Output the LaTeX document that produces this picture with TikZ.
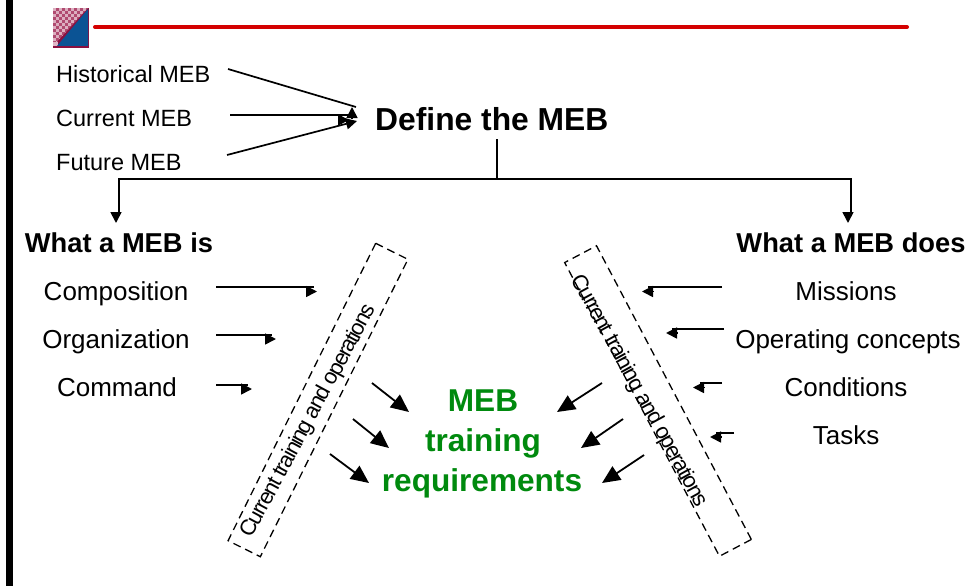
\documentclass[tikz,border=0pt]{standalone}
\usepackage{fontspec}
\setmainfont{Liberation Sans}
\usetikzlibrary{arrows.meta}
\definecolor{megreen}{HTML}{008A0E}
\definecolor{mered}{HTML}{D40000}
\definecolor{meblue}{HTML}{0B5394}
\definecolor{memaroon}{HTML}{8A1040}
\definecolor{mepink}{HTML}{B04A70}
\newcommand{\fsz}[1]{\fontsize{#1}{#1}\selectfont}
\tikzset{
  x=1pt,y=-1pt,
  lab/.style={inner sep=0pt,anchor=base west,text=black,font=\fsz{23.5}},
  labm/.style={inner sep=0pt,anchor=base,text=black,font=\fsz{26}},
  head/.style={inner sep=0pt,anchor=base,text=black,font=\fsz{27.3}\bfseries},
  goal/.style={inner sep=0pt,anchor=base,text=megreen,font=\fsz{31.6}\bfseries},
  plainline/.style={draw=black,line width=1.7pt},
  arrowline/.style={draw=black,line width=1.7pt,-{Triangle[length=11pt,width=11pt]}},
  bigarrow/.style={draw=black,line width=1.8pt,-{Triangle[length=18pt,width=16pt]}},
  dashbox/.style={draw=black,line width=1.3pt,dash pattern=on 8pt off 5pt,inner sep=0pt,minimum width=332pt,minimum height=36pt},
  sidetext/.style={inner sep=0pt,text=black},
}
\newfontfamily\sidefont[LetterSpace=-7]{Liberation Sans}
\begin{document}
\begin{tikzpicture}
\useasboundingbox (0,0) rectangle (969,586);
\fill[white] (0,0) rectangle (969,586);
% left bar
\fill[black] (6,0) rectangle (13,586);
% logo
\fill[memaroon] (53,8) rectangle (89,48);
\begin{scope}
\clip (53,8) -- (88,8) -- (53,46) -- cycle;
\fill[mepink] (53,8) rectangle (88,46);
\foreach \i in {0,...,11}{\foreach \j in {0,...,12}{
  \pgfmathparse{int(mod(\i+\j,2))}
  \ifnum\pgfmathresult=0 \fill[white!55!mepink] (53+3*\i,8+3*\j) rectangle ++(3,3);\fi
}}
\end{scope}
\fill[white!60!mepink] (53,42) rectangle (58,46);
\fill[meblue] (88,9) -- (88,46) -- (57,46) -- cycle;
% red rule
\coordinate (ruleA) at (95,27);
\coordinate (ruleB) at (907,27);
\draw[mered,line width=4pt,line cap=round] (ruleA) -- (ruleB);
% top inputs
\node[lab] (hist) at (56,82) {Historical MEB};
\node[lab] (curr) at (56,126) {Current MEB};
\node[lab] (fut) at (56,170) {Future MEB};
\node[inner sep=0pt,anchor=base west,text=black,font=\fsz{31.8}\bfseries] (define) at (375,130) {Define the MEB};
\coordinate (a1s) at (228,69); \coordinate (a1e) at (356,107);
\coordinate (a1h) at (352,118); \coordinate (a1t) at (352,107);
\coordinate (a2s) at (230,115); \coordinate (a2e) at (348,115);
\coordinate (a2h) at (338,120); \coordinate (a2t) at (349,120);
\coordinate (a3s) at (227,155); \coordinate (a3e) at (357,121);
\draw[plainline] (a1s) -- (a1e);
\draw[arrowline] (a1h) -- (a1t);
\draw[plainline] (a2s) -- (a2e);
\draw[arrowline] (a2h) -- (a2t);
\draw[arrowline] (a3s) -- (a3e);
% tree
\coordinate (t0) at (497,139); \coordinate (t1) at (497,179);
\coordinate (tlc) at (119,179); \coordinate (tld) at (119,213);
\coordinate (trc) at (851,179); \coordinate (trd) at (851,213);
\coordinate (tlh) at (116,212); \coordinate (tlt) at (116,223);
\coordinate (trh) at (848,212); \coordinate (trt) at (848,223);
\draw[plainline] (t0) -- (t1);
\draw[plainline] (tld) -- (tlc) -- (trc) -- (trd);
\draw[arrowline] (tlh) -- (tlt);
\draw[arrowline] (trh) -- (trt);
% headings
\node[head] (isH) at (119,252.5) {What a MEB is};
\node[head] (doesH) at (851,252.5) {What a MEB does};
% left items
\node[labm] (comp) at (116,300) {Composition};
\node[labm] (org) at (116,348) {Organization};
\node[labm] (cmd) at (117,396) {Command};
\coordinate (b1s) at (216,287); \coordinate (b1e) at (314,287);
\coordinate (b1h) at (306,291.5); \coordinate (b1t) at (317,291.5);
\coordinate (b2s) at (216,335); \coordinate (b2e) at (272,335);
\coordinate (b2h) at (265,339); \coordinate (b2t) at (276,339);
\coordinate (b3s) at (216,385); \coordinate (b3e) at (248,385);
\coordinate (b3h) at (241,389); \coordinate (b3t) at (252,389);
% right items
\node[labm] (miss) at (846,300) {Missions};
\node[labm] (opc) at (848,348) {Operating concepts};
\node[labm] (cond) at (846,396) {Conditions};
\node[labm] (task) at (846,444) {Tasks};
\coordinate (c1s) at (722,287); \coordinate (c1e) at (648,287);
\coordinate (c1h) at (653,291.5); \coordinate (c1t) at (642,291.5);
\coordinate (c2s) at (724,329); \coordinate (c2e) at (672,329);
\coordinate (c2h) at (677,333); \coordinate (c2t) at (666,333);
\coordinate (c3s) at (722,383); \coordinate (c3e) at (700,383);
\coordinate (c3h) at (704,387.5); \coordinate (c3t) at (693,387.5);
\coordinate (c4s) at (734,433); \coordinate (c4e) at (716,433);
\coordinate (c4h) at (721,437); \coordinate (c4t) at (710,437);
\foreach \n in {b1,b2,b3,c1,c2,c3,c4}{
  \draw[plainline] (\n s) -- (\n e);
  \draw[arrowline] (\n h) -- (\n t);
}
% dashed strips
\node[dashbox,rotate=63.6] (boxL) at (318,400) {};
\node[dashbox,rotate=-62.2] (boxR) at (658,401) {};
\node[sidetext,rotate=61.6] (txtL) at (309,421) {\sidefont\fsz{22}Current training and operations};
\node[sidetext,rotate=-61.2] (txtR) at (639,391) {\sidefont\fsz{22}Current training and operations};
% centre
\node[goal] (g1) at (483,411) {MEB};
\node[goal] (g2) at (483,451) {training};
\node[goal] (g3) at (482,491) {requirements};
% big arrows
\coordinate (d1s) at (372,383); \coordinate (d1e) at (409,412);
\coordinate (d2s) at (353,419); \coordinate (d2e) at (389,448);
\coordinate (d3s) at (330,454); \coordinate (d3e) at (369,483);
\coordinate (e1s) at (602,383); \coordinate (e1e) at (557,412);
\coordinate (e2s) at (623,419); \coordinate (e2e) at (581,448);
\coordinate (e3s) at (644,455); \coordinate (e3e) at (602,483);
\foreach \n in {d1,d2,d3,e1,e2,e3}{\draw[bigarrow] (\n s) -- (\n e);}
\end{tikzpicture}
\end{document}
